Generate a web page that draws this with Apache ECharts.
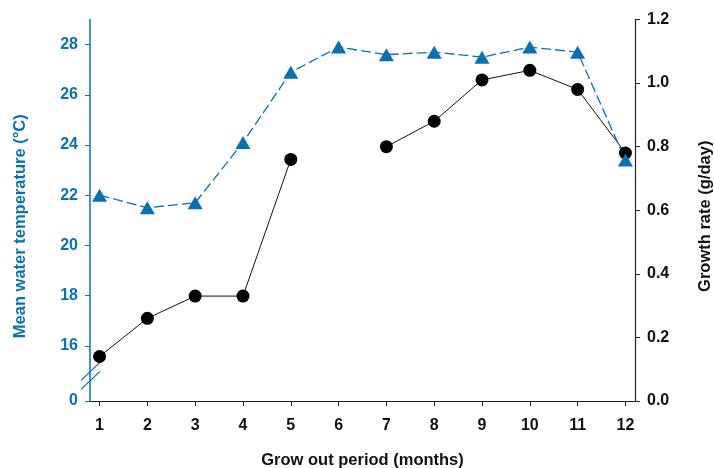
<!DOCTYPE html>
<html>
<head>
<meta charset="utf-8">
<script src="https://cdn.jsdelivr.net/npm/echarts@6/dist/echarts.min.js"></script>
<style>html,body{margin:0;padding:0;background:#fff;overflow:hidden}#c{width:714px;height:468px}</style>
</head>
<body>
<div id="c"></div>
<script>
const months = [1,2,3,4,5,6,7,8,9,10,11,12];
const temperature = [22.0,21.5,21.7,24.1,26.9,27.9,27.6,27.7,27.5,27.9,27.7,23.4];
const growth = [0.14,0.26,0.33,0.33,0.76,null,0.80,0.88,1.01,1.04,0.98,0.78];
const tempTicks = [16,18,20,22,24,26,28];
const tempAxisMin = 13.8;   // shown as "0" (broken axis)
const tempAxisMax = 29.0;

const BLUE = '#0a70b4';
const FONT = 'Liberation Sans, Arial, sans-serif';
const chart = echarts.init(document.getElementById('c'), null, {renderer:'canvas'});

const option = {
  animation: false,
  backgroundColor: '#fff',
  grid: {left: 90, right: 79, top: 19.5, bottom: 67, containLabel: false, outerBoundsMode: 'none'},
  xAxis: {
    type: 'value', min: 0.8, max: 12.2,
    name: 'Grow out period (months)', nameLocation: 'middle', nameGap: 51,
    nameTextStyle: {fontFamily: FONT, fontWeight: 'bold', fontSize: 16.5, color: '#111'},
    axisLine: {show: true, lineStyle: {color: '#222', width: 1.2}},
    axisTick: {show: true, length: 5, customValues: months, lineStyle: {color: '#222'}},
    axisLabel: {customValues: months, margin: 17, fontFamily: FONT, fontWeight: 'bold', fontSize: 16, color: '#111'},
    splitLine: {show: false}
  },
  yAxis: [{
    type: 'value', position: 'left', min: tempAxisMin, max: tempAxisMax,
    name: 'Mean water temperature (°C)', nameLocation: 'middle', nameGap: 61, nameRotate: 90,
    nameTextStyle: {fontFamily: FONT, fontWeight: 'bold', fontSize: 16.5, color: BLUE, padding: [0, 32, 0, 0]},
    axisLine: {show: true, lineStyle: {color: BLUE, width: 1.5}},
    axisTick: {show: true, length: 5, customValues: [tempAxisMin].concat(tempTicks), lineStyle: {color: BLUE}},
    axisLabel: {customValues: [tempAxisMin].concat(tempTicks), margin: 12, fontFamily: FONT, fontWeight: 'bold', fontSize: 16, color: BLUE,
      formatter: v => (v < 15 ? '0' : String(Math.round(v)))},
    splitLine: {show: false}
  }, {
    type: 'value', position: 'right', min: 0, max: 1.2, interval: 0.2,
    name: 'Growth rate (g/day)', nameLocation: 'middle', nameGap: 62, nameRotate: 90,
    nameTextStyle: {fontFamily: FONT, fontWeight: 'bold', fontSize: 16.5, color: '#111', padding: [0, 12, 0, 0]},
    axisLine: {show: true, lineStyle: {color: '#222', width: 1.2}},
    axisTick: {show: true, length: 5, lineStyle: {color: '#222'}},
    axisLabel: {margin: 12, fontFamily: FONT, fontWeight: 'bold', fontSize: 16, color: '#111',
      formatter: v => v.toFixed(1)},
    splitLine: {show: false}
  }],
  series: [{
    name: 'Growth rate', type: 'line', yAxisIndex: 1,
    data: months.map((m, i) => [m, growth[i]]),
    connectNulls: false,
    symbol: 'circle', symbolSize: 13,
    itemStyle: {color: '#000'},
    lineStyle: {color: '#111', width: 1}
  }, {
    name: 'Temperature', type: 'line', yAxisIndex: 0,
    data: months.map((m, i) => [m, temperature[i]]),
    symbol: 'triangle', symbolSize: [15, 13],
    itemStyle: {color: BLUE},
    lineStyle: {color: BLUE, width: 1.3, type: [10, 4]}
  }]
};
chart.setOption(option);

// axis break marks
const ax = chart.convertToPixel({xAxisIndex: 0}, 0.8);
const by = chart.convertToPixel({yAxisIndex: 0}, 14.8);
const brk = [-4.5, 4.5].map(d => ({
  type: 'line',
  shape: {x1: ax - 9, y1: by + d + 9, x2: ax + 10, y2: by + d - 9},
  style: {stroke: BLUE, lineWidth: 1.3}
}));
chart.setOption({graphic: brk});
</script>
</body>
</html>
